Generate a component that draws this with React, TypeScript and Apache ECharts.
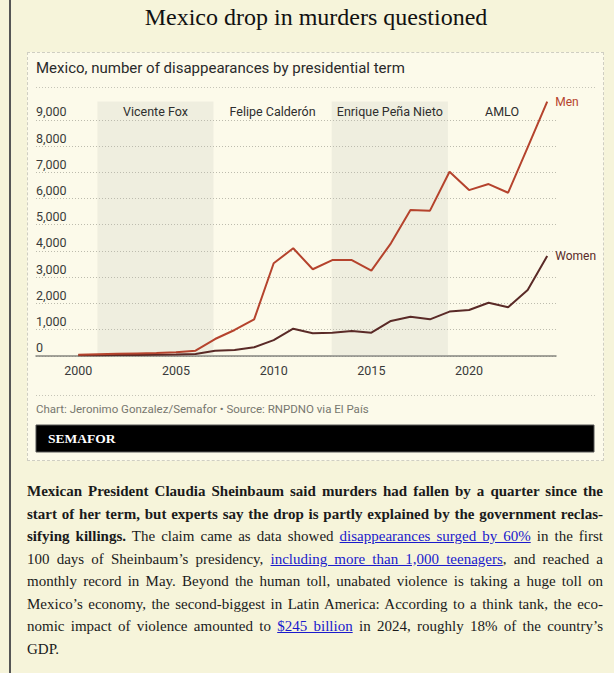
import React, { useEffect, useRef } from "react";
import * as echarts from "echarts";

const years = [2000, 2001, 2002, 2003, 2004, 2005, 2006, 2007, 2008, 2009, 2010, 2011, 2012, 2013, 2014, 2015, 2016, 2017, 2018, 2019, 2020, 2021, 2022, 2023, 2024];
const men = [40, 60, 75, 90, 105, 140, 195, 640, 985, 1390, 3530, 4100, 3300, 3650, 3650, 3250, 4290, 5560, 5535, 7020, 6320, 6550, 6220, 7950, 9690];
const women = [20, 25, 30, 35, 40, 50, 70, 195, 220, 325, 600, 1035, 860, 880, 945, 880, 1330, 1490, 1390, 1685, 1745, 2025, 1850, 2510, 3805];

const termNames = ["Vicente Fox", "Felipe Calderón", "Enrique Peña Nieto", "AMLO"];
const termStarts = [2000.98, 2006.92, 2012.97, 2018.92];
const termEnds = [2006.92, 2012.97, 2018.92, 2024.45];
const termShaded = [true, false, true, false];

const xTickLabels = [2000, 2005, 2010, 2015, 2020];

const FONT = "Roboto";
const MEN_COLOR = "#b5432d";
const WOMEN_COLOR = "#5a2a27";

export default function App() {
  const ref = useRef<HTMLDivElement>(null);

  useEffect(() => {
    if (!ref.current) return;
    const chart = echarts.init(ref.current, undefined, { renderer: "svg" });
    const menData = years.map((y, i) => [y, men[i]]);
    const womenData = years.map((y, i) => [y, women[i]]);
    const areas = termNames.map((n, i) => [
      {
        name: n,
        xAxis: termStarts[i],
        yAxis: 0,
        itemStyle: { color: termShaded[i] ? "rgba(190,190,178,0.2)" : "rgba(0,0,0,0)" },
      },
      { xAxis: termEnds[i], yAxis: 9700 },
    ]);
    chart.setOption({
      animation: false,
      textStyle: { fontFamily: FONT },
      grid: { left: 36, top: 93.6, right: 58, bottom: 470 - 355.8, containLabel: false },
      xAxis: {
        type: "value",
        min: 1997.835,
        max: 2024.45,
        splitLine: { show: false },
        axisTick: { show: false },
        axisLine: { show: true, lineStyle: { color: "#85857f", width: 1.5 } },
        axisLabel: {
          customValues: xTickLabels,
          formatter: (v: number) => String(v),
          color: "#3a3a3a",
          fontSize: 12.5,
          margin: 8,
          fontFamily: FONT,
        },
      },
      yAxis: {
        type: "value",
        min: 0,
        max: 10000,
        interval: 1000,
        axisLine: { show: false },
        axisTick: { show: false },
        splitLine: {
          show: true,
          showMaxLine: false,
          lineStyle: { color: "#bdbcae", type: [1, 2], width: 1 },
        },
        axisLabel: {
          inside: true,
          margin: 0,
          align: "left",
          verticalAlign: "bottom",
          lineHeight: 16,
          showMaxLabel: false,
          color: "#3a3a3a",
          fontSize: 12.5,
          fontFamily: FONT,
          formatter: (v: number) => v.toLocaleString("en-US"),
        },
      },
      series: [
        {
          name: "Women",
          type: "line",
          data: womenData,
          symbol: "none",
          lineStyle: { color: WOMEN_COLOR, width: 2 },
          itemStyle: { color: WOMEN_COLOR },
          z: 3,
          endLabel: {
            show: true,
            formatter: "{a}",
            color: WOMEN_COLOR,
            fontSize: 12,
            distance: 8,
            fontFamily: FONT,
          },
        },
        {
          name: "Men",
          type: "line",
          data: menData,
          symbol: "none",
          lineStyle: { color: MEN_COLOR, width: 2 },
          itemStyle: { color: MEN_COLOR },
          z: 4,
          endLabel: {
            show: true,
            formatter: "{a}",
            color: MEN_COLOR,
            fontSize: 12,
            distance: 8,
            fontFamily: FONT,
          },
          markArea: {
            silent: true,
            z: 1,
            label: {
              show: true,
              position: "insideTop",
              distance: 4,
              color: "#2e2e2e",
              fontSize: 12.5,
              fontFamily: FONT,
            },
            data: areas,
          },
        },
      ],
      graphic: [
        {
          type: "text",
          x: 36,
          y: 68,
          style: {
            text: "Mexico, number of disappearances by presidential term",
            fontSize: 15,
            fontFamily: FONT,
            fill: "#2a2a2a",
            verticalAlign: "middle",
          },
        },
        {
          type: "line",
          shape: { x1: 36, y1: 87.5, x2: 596, y2: 87.5 },
          style: { stroke: "#c6c5b8", lineWidth: 1, lineDash: [1, 2] },
        },
        {
          type: "line",
          shape: { x1: 36, y1: 395.5, x2: 596, y2: 395.5 },
          style: { stroke: "#c6c5b8", lineWidth: 1, lineDash: [1, 2] },
        },
        {
          type: "text",
          x: 36,
          y: 409,
          style: {
            text: "Chart: Jeronimo Gonzalez/Semafor • Source: RNPDNO via El País",
            fontSize: 11.5,
            fontFamily: FONT,
            fill: "#77776f",
            verticalAlign: "middle",
          },
        },
        {
          type: "rect",
          shape: { x: 36, y: 425, width: 558, height: 27 },
          style: { fill: "#000", stroke: "#555", lineWidth: 1 },
        },
        {
          type: "text",
          x: 48,
          y: 438.5,
          style: {
            text: "SEMAFOR",
            fontSize: 13.5,
            fontWeight: "bold",
            fontFamily: "Liberation Serif",
            fill: "#fff",
            verticalAlign: "middle",
          },
        },
      ],
    });
    return () => chart.dispose();
  }, []);

  const lineStyle: React.CSSProperties = {
    textAlign: "justify",
    textAlignLast: "justify" as any,
    height: 22.5,
  };
  const link: React.CSSProperties = { color: "#1a1acc", textDecoration: "underline" };

  return (
    <div
      style={{
        position: "fixed",
        left: 0,
        top: 0,
        width: 614,
        height: 673,
        background: "#f6f4da",
        overflow: "hidden",
        fontFamily: "'Liberation Serif', 'Times New Roman', serif",
      }}
    >
      <div style={{ position: "absolute", left: 9, top: 0, width: 1.5, height: 673, background: "#555" }} />
      <div
        style={{
          position: "absolute",
          left: 0,
          top: 0,
          width: 632,
          height: 34,
          lineHeight: "34px",
          fontSize: 24,
          textAlign: "center",
          color: "#111",
        }}
      >
        Mexico drop in murders questioned
      </div>
      <div
        style={{
          position: "absolute",
          left: 27,
          top: 52,
          width: 577,
          height: 409,
          boxSizing: "border-box",
          border: "1px dashed #cfcec2",
          background: "#fcfaea",
        }}
      />
      <div ref={ref} style={{ position: "absolute", left: 0, top: 0, width: 614, height: 470 }} />
      <div
        style={{
          position: "absolute",
          left: 27,
          top: 480,
          width: 576,
          fontSize: 15,
          lineHeight: "22.5px",
          color: "#1a1a1a",
        }}
      >
        <div style={lineStyle}>
          <b>Mexican President Claudia Sheinbaum said murders had fallen by a quarter since the</b>
        </div>
        <div style={lineStyle}>
          <b>start of her term, but experts say the drop is partly explained by the government reclas-</b>
        </div>
        <div style={lineStyle}>
          <b>sifying killings.</b> The claim came as data showed <a style={link}>disappearances surged by 60%</a> in the first
        </div>
        <div style={lineStyle}>
          100 days of Sheinbaum’s presidency, <a style={link}>including more than 1,000 teenagers</a>, and reached a
        </div>
        <div style={lineStyle}>
          monthly record in May. Beyond the human toll, unabated violence is taking a huge toll on
        </div>
        <div style={lineStyle}>
          Mexico’s economy, the second-biggest in Latin America: According to a think tank, the eco-
        </div>
        <div style={lineStyle}>
          nomic impact of violence amounted to <a style={link}>$245 billion</a> in 2024, roughly 18% of the country’s
        </div>
        <div style={{ height: 22.5 }}>GDP.</div>
      </div>
    </div>
  );
}
